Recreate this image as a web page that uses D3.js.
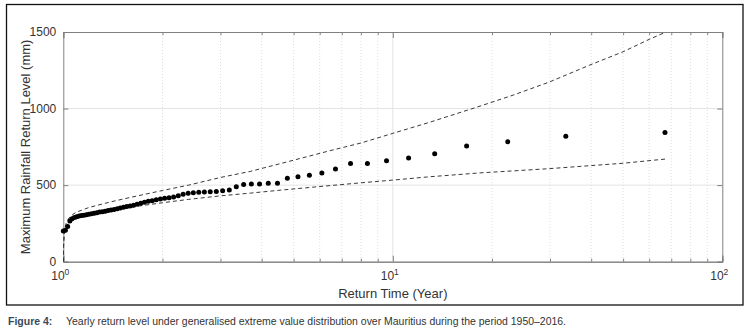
<!DOCTYPE html>
<html><head><meta charset="utf-8">
<script src="https://cdn.jsdelivr.net/npm/d3@7"></script>
<style>body{margin:0;background:#fff} svg{display:block}</style>
</head><body>
<svg id="c" width="752" height="332"></svg>
<script>
// Empirical return periods (years) and return levels (mm)
const returnTime = [1.000,1.015,1.031,1.047,1.063,1.081,1.098,1.117,1.136,1.155,
  1.175,1.196,1.218,1.241,1.264,1.288,1.314,1.340,1.367,1.396,
  1.426,1.457,1.489,1.523,1.558,1.595,1.634,1.675,1.718,1.763,
  1.811,1.861,1.914,1.971,2.030,2.094,2.161,2.233,2.310,2.393,
  2.481,2.577,2.680,2.792,2.913,3.045,3.190,3.350,3.526,3.722,
  3.941,4.188,4.467,4.786,5.154,5.583,6.091,6.700,7.444,8.375,
  9.571,11.167,13.400,16.750,22.333,33.500,67.000];
const returnLevel = [200,205,230,265,280,288,294,298,301,304,
  307,310,313,317,320,324,327,330,334,337,
  341,345,350,355,360,363,368,375,382,389,
  394,398,404,410,415,418,422,430,440,447,
  450,454,455,457,459,463,468,490,504,507,
  507,512,512,545,555,564,580,605,642,642,
  660,678,705,755,783,820,844];
// Confidence bounds
const ciTime  = [1.0,1.002,1.005,1.01,1.02,1.04,1.07,1.1,1.2,1.4,1.6,2.0,2.4,3.0,3.7,4.55,6.45,8,10,13,18.4,23.2,30,39.6,50,60,67];
const ciUpper = [0,110,175,215,250,285,310,325,355,392,420,465,500,550,590,640,725,775,838,912,1016,1088,1175,1284,1371,1452,1497];
const ciLower = [0,100,160,200,230,255,272,283,310,338,356,385,407,430,448,467,497,515,533,555,580,593,608,627,643,660,670];
const yTicks = [0,500,1000,1500];
const xMajor = [1,10,100];
const xMajorExp = ["0","1","2"];
const xMinor = [2,3,4,5,6,7,8,9,20,30,40,50,60,70,80,90];
const yLabel = "Maximum Rainfall Return Level (mm)";
const xLabel = "Return Time (Year)";
const capHead = "Figure 4:";
const capText = "Yearly return level under generalised extreme value distribution over Mauritius during the period 1950–2016.";

(function(){
const svg = d3.select("#c");
const L = 63.3, R = 722.3, T = 32, B = 261.7;
const x = d3.scaleLog().domain([1,100]).range([L,R]);
const y = d3.scaleLinear().domain([0,1500]).range([B,T]);
const font = "'Liberation Sans', Arial, sans-serif";

// outer frame
svg.append("rect").attr("x",6.5).attr("y",4.5).attr("width",736.5).attr("height",300.5)
  .attr("fill","none").attr("stroke","#111").attr("stroke-width",1.3);

// grid
const g = svg.append("g");
g.selectAll(".ym").data(yTicks.filter(d=>d>0 && d<1500)).join("line")
  .attr("x1",L).attr("x2",R).attr("y1",d=>y(d)).attr("y2",d=>y(d))
  .attr("stroke","#e3e3e3").attr("stroke-width",1);
g.selectAll(".xm").data(xMinor).join("line")
  .attr("x1",d=>x(d)).attr("x2",d=>x(d)).attr("y1",T).attr("y2",B)
  .attr("stroke","#d4d4d4").attr("stroke-width",0.8).attr("stroke-dasharray","1,2");
g.selectAll(".xM").data([10]).join("line")
  .attr("x1",d=>x(d)).attr("x2",d=>x(d)).attr("y1",T).attr("y2",B)
  .attr("stroke","#e3e3e3").attr("stroke-width",1);

// axes (ticks inward on all sides)
const axCol = "#808080";
const axB = svg.append("g").attr("transform",`translate(0,${B})`)
  .call(d3.axisBottom(x).tickValues(xMajor).tickSize(-6).tickFormat(""));
const axBm = svg.append("g").attr("transform",`translate(0,${B})`)
  .call(d3.axisBottom(x).tickValues(xMinor).tickSize(-3).tickFormat(""));
const axT = svg.append("g").attr("transform",`translate(0,${T})`)
  .call(d3.axisTop(x).tickValues(xMajor).tickSize(-6).tickFormat(""));
const axTm = svg.append("g").attr("transform",`translate(0,${T})`)
  .call(d3.axisTop(x).tickValues(xMinor).tickSize(-3).tickFormat(""));
const axL = svg.append("g").attr("transform",`translate(${L},0)`)
  .call(d3.axisLeft(y).tickValues(yTicks).tickSize(-5).tickPadding(7).tickFormat(d3.format("d")));
const axR = svg.append("g").attr("transform",`translate(${R},0)`)
  .call(d3.axisRight(y).tickValues(yTicks).tickSize(-5).tickFormat(""));
[axB,axBm,axT,axTm,axL,axR].forEach(a=>{
  a.selectAll("path,line").attr("stroke",axCol).attr("stroke-width",1);
});
axL.selectAll("text").attr("font-family",font).attr("font-size",12).attr("fill","#333");

// x tick labels with superscripts
const xl = svg.append("g");
xMajor.forEach((v,i)=>{
  const t = xl.append("text").attr("x",x(v)-3).attr("y",280)
    .attr("text-anchor","middle").attr("font-family",font).attr("font-size",12).attr("fill","#333");
  t.append("tspan").text("10");
  t.append("tspan").attr("dy",-5).attr("font-size",8.5).text(xMajorExp[i]);
});

// axis titles
svg.append("text").attr("x",(L+R)/2).attr("y",298).attr("text-anchor","middle")
  .attr("font-family",font).attr("font-size",13).attr("fill","#333").text(xLabel);
svg.append("text").attr("transform",`translate(30,${(T+B)/2}) rotate(-90)`).attr("text-anchor","middle")
  .attr("font-family",font).attr("font-size",13).attr("fill","#333").text(yLabel);

// clip
svg.append("clipPath").attr("id","pc").append("rect").attr("x",L).attr("y",T).attr("width",R-L).attr("height",B-T);
const plot = svg.append("g").attr("clip-path","url(#pc)");

const lineCI = d3.line().x((d,i)=>x(ciTime[i])).y(d=>y(d));
plot.append("path").datum(ciUpper).attr("d",lineCI).attr("fill","none")
  .attr("stroke","#222").attr("stroke-width",0.9).attr("stroke-dasharray","4,3");
plot.append("path").datum(ciLower).attr("d",lineCI).attr("fill","none")
  .attr("stroke","#222").attr("stroke-width",0.9).attr("stroke-dasharray","4,3");

svg.append("g").selectAll("circle").data(returnLevel).join("circle")
  .attr("cx",(d,i)=>x(returnTime[i])).attr("cy",d=>y(d)).attr("r",2.5).attr("fill","#000");

// caption
const cf = "'Liberation Sans Narrow', 'Arial Narrow', 'Liberation Sans', sans-serif";
svg.append("text").attr("x",8).attr("y",325).attr("font-family",cf).attr("font-size",10.5)
  .attr("font-weight","bold").attr("fill","#3a4a5a").text(capHead);
svg.append("text").attr("x",66).attr("y",325).attr("font-family",cf).attr("font-size",10.5)
  .attr("fill","#333").attr("textLength",500).attr("lengthAdjust","spacingAndGlyphs").text(capText);
})();
</script>
</body></html>
